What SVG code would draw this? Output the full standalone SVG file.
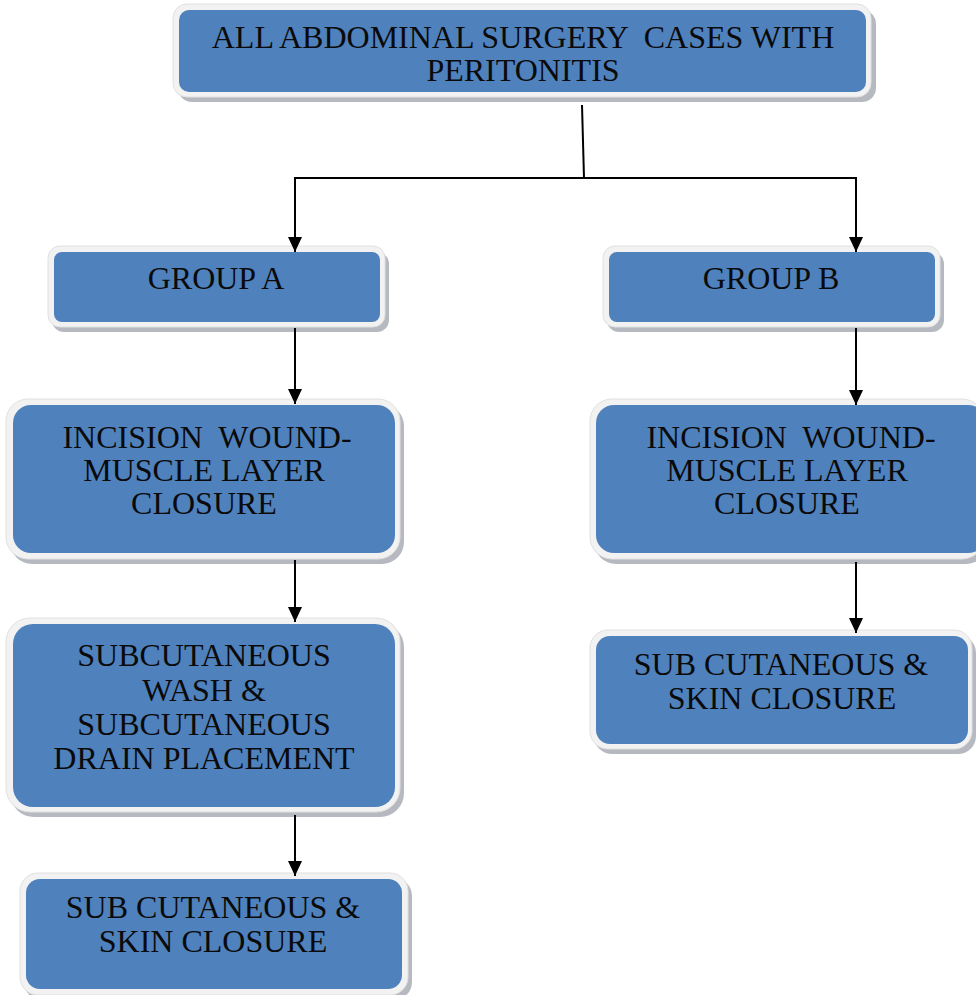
<svg xmlns="http://www.w3.org/2000/svg" width="976" height="995" viewBox="0 0 976 995">
<style>
.sh{fill:#9ea3ab;opacity:0.75}
.fr{fill:#f2f2f2;stroke:#e0e0e0;stroke-width:1}
.bx{fill:#4f81bd}
.t{font-family:"Liberation Serif","Times New Roman",serif;font-size:32px;fill:#0a0a0a;text-anchor:middle;white-space:pre}
.c{stroke:#000;stroke-width:2;fill:none}
</style>
<defs>
<marker id="arr" markerWidth="15" markerHeight="14" refX="15" refY="7" orient="auto" markerUnits="userSpaceOnUse" viewBox="0 0 15 14">
<path d="M0,0 L15,7 L0,14 Z" fill="#000"/>
</marker>
</defs>
<rect width="976" height="995" fill="#fff"/>
<g id="top">
<rect class="sh" x="178" y="10" width="698" height="92" rx="14"/>
<rect class="fr" x="173" y="4" width="698" height="93" rx="14"/>
<rect class="bx" x="179" y="10" width="687" height="82" rx="10"/>
<text class="t" x="523" y="48" xml:space="preserve">ALL ABDOMINAL SURGERY  CASES WITH</text>
<text class="t" x="523" y="81">PERITONITIS</text>
</g>
<g id="groupA">
<rect class="sh" x="52" y="252" width="337" height="80" rx="12"/>
<rect class="fr" x="48" y="246" width="337" height="81" rx="12"/>
<rect class="bx" x="54" y="252" width="326" height="70" rx="8"/>
<text class="t" x="216" y="289">GROUP A</text>
</g>
<g id="groupB">
<rect class="sh" x="607" y="252" width="337" height="80" rx="12"/>
<rect class="fr" x="603" y="246" width="337" height="81" rx="12"/>
<rect class="bx" x="609" y="252" width="326" height="70" rx="8"/>
<text class="t" x="771" y="289">GROUP B</text>
</g>
<g id="incisionA">
<rect class="sh" x="10" y="404" width="394" height="160" rx="22"/>
<rect class="fr" x="6" y="399" width="394" height="160" rx="22"/>
<rect class="bx" x="13" y="405" width="382" height="148" rx="18"/>
<text class="t" x="207" y="448" xml:space="preserve">INCISION  WOUND-</text>
<text class="t" x="204" y="481">MUSCLE LAYER</text>
<text class="t" x="204" y="514">CLOSURE</text>
</g>
<g id="incisionB">
<rect class="sh" x="594" y="404" width="394" height="160" rx="22"/>
<rect class="fr" x="590" y="399" width="394" height="160" rx="22"/>
<rect class="bx" x="596" y="405" width="390" height="148" rx="18"/>
<text class="t" x="791" y="448" xml:space="preserve">INCISION  WOUND-</text>
<text class="t" x="787" y="481">MUSCLE LAYER</text>
<text class="t" x="787" y="514">CLOSURE</text>
</g>
<g id="subcutA">
<rect class="sh" x="10" y="623" width="394" height="194" rx="24"/>
<rect class="fr" x="6" y="618" width="394" height="194" rx="24"/>
<rect class="bx" x="13" y="624" width="382" height="183" rx="20"/>
<text class="t" x="204" y="666">SUBCUTANEOUS</text>
<text class="t" x="204" y="701">WASH &amp;</text>
<text class="t" x="204" y="735">SUBCUTANEOUS</text>
<text class="t" x="204" y="769">DRAIN PLACEMENT</text>
</g>
<g id="skinB">
<rect class="sh" x="594" y="635" width="382" height="119" rx="18"/>
<rect class="fr" x="590" y="630" width="382" height="119" rx="18"/>
<rect class="bx" x="596" y="636" width="372" height="108" rx="14"/>
<text class="t" x="781" y="675">SUB CUTANEOUS &amp;</text>
<text class="t" x="782" y="709">SKIN CLOSURE</text>
</g>
<g id="skinA">
<rect class="sh" x="24" y="878" width="388" height="122" rx="18"/>
<rect class="fr" x="20" y="873" width="388" height="122" rx="18"/>
<rect class="bx" x="26" y="879" width="376" height="110" rx="14"/>
<text class="t" x="213" y="918">SUB CUTANEOUS &amp;</text>
<text class="t" x="213" y="952">SKIN CLOSURE</text>
</g>
<g id="connectors">
<path class="c" d="M582,105 L584,178"/>
<path class="c" d="M295,178 L856,178"/>
<path class="c" d="M295,177 L295,252" marker-end="url(#arr)"/>
<path class="c" d="M856,177 L856,252" marker-end="url(#arr)"/>
<path class="c" d="M295,328 L295,404" marker-end="url(#arr)"/>
<path class="c" d="M856,328 L856,405" marker-end="url(#arr)"/>
<path class="c" d="M295,560 L295,622" marker-end="url(#arr)"/>
<path class="c" d="M856,562 L856,633" marker-end="url(#arr)"/>
<path class="c" d="M295,815 L295,876" marker-end="url(#arr)"/>
</g>
</svg>
